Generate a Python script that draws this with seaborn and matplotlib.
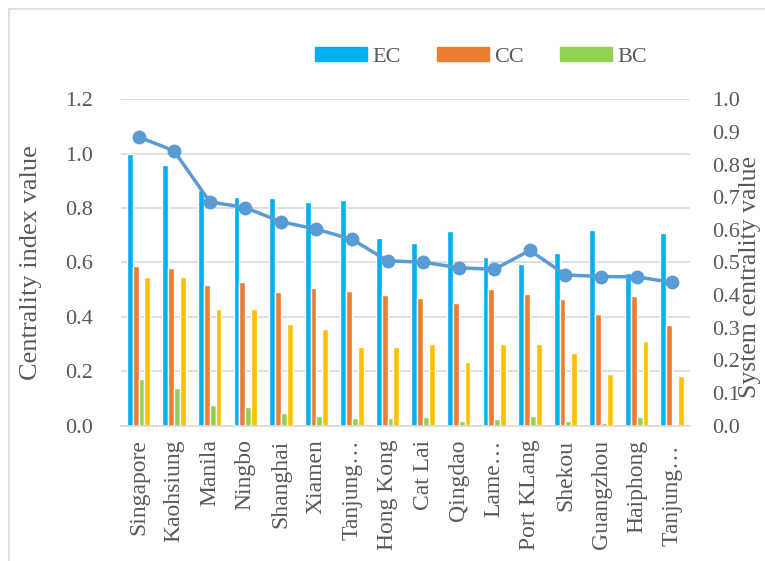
import numpy as np
import pandas as pd
import matplotlib
matplotlib.use("Agg")
import matplotlib.pyplot as plt
import seaborn as sns
from matplotlib.patches import Patch
from matplotlib.lines import Line2D

# values
ports = ["Singapore", "Kaohsiung", "Manila", "Ningbo", "Shanghai", "Xiamen",
         "Tanjung…", "Hong Kong", "Cat Lai", "Qingdao", "Lame…", "Port KLang",
         "Shekou", "Guangzhou", "Haiphong", "Tanjung… "]
ec = [1.00, 0.96, 0.866, 0.840, 0.836, 0.821, 0.830, 0.689, 0.670, 0.716,
      0.619, 0.596, 0.634, 0.720, 0.560, 0.707]
cc = [0.587, 0.579, 0.517, 0.528, 0.491, 0.506, 0.495, 0.480, 0.469, 0.452,
      0.503, 0.485, 0.467, 0.410, 0.477, 0.370]
bc = [0.171, 0.140, 0.075, 0.069, 0.048, 0.036, 0.029, 0.027, 0.032, 0.017,
      0.026, 0.037, 0.016, 0.010, 0.033, 0.003]
other = [0.548, 0.548, 0.429, 0.429, 0.375, 0.354, 0.289, 0.289, 0.299, 0.235,
         0.299, 0.299, 0.267, 0.191, 0.311, 0.182]
system = [0.885, 0.842, 0.686, 0.668, 0.625, 0.602, 0.571, 0.505, 0.501, 0.484,
          0.479, 0.537, 0.462, 0.457, 0.456, 0.439]

metrics = ["EC", "CC", "BC", "other"]
colors = ["#00B0F0", "#ED7D31", "#92D050", "#FFC000"]
n = len(ports)

df = pd.DataFrame({
    "port": ports * 4,
    "metric": sum([[m] * n for m in metrics], []),
    "value": ec + cc + bc + other,
})

sns.set_theme(style="white")
plt.rcParams["font.family"] = ["Liberation Serif", "DejaVu Serif"]
txt = "#595959"
grid_c = "#D9D9D9"

fig = plt.figure(figsize=(7.65, 5.61), dpi=100)
ax = fig.add_axes([0.1578, 0.2412, 0.7442, 0.5818])

sns.barplot(data=df, x="port", y="value", hue="metric", palette=colors,
            width=0.66, saturation=1, legend=False, ax=ax)

ax.set_ylim(0, 1.2)
ax.set_yticks(np.arange(0, 1.21, 0.2))
ax.set_yticklabels([f"{v:.1f}" for v in np.arange(0, 1.21, 0.2)])
ax.grid(axis="y", color=grid_c, lw=1.2)
ax.set_axisbelow(True)
for s in ["left", "right", "top"]:
    ax.spines[s].set_visible(False)
ax.spines["bottom"].set_color(grid_c)
ax.spines["bottom"].set_linewidth(1.2)
ax.tick_params(axis="y", length=0, pad=20, labelsize=16, labelcolor=txt)
ax.tick_params(axis="x", length=0, pad=10, labelsize=17, labelcolor=txt,
               rotation=90)
ax.set_xlabel("")
ax.set_ylabel("Centrality index value", fontsize=19, color=txt)
ax.yaxis.set_label_coords(-0.138, 0.5)

ax2 = ax.twinx()
sns.lineplot(x=np.arange(n), y=system, ax=ax2, color="#5B9BD5", lw=2.5,
             marker="o", markersize=10, markeredgewidth=0)
ax2.set_ylim(0, 1.0)
ax2.set_yticks(np.arange(0, 1.01, 0.1))
ax2.set_yticklabels([f"{v:.1f}" for v in np.arange(0, 1.01, 0.1)])
for s in ax2.spines.values():
    s.set_visible(False)
ax2.grid(False)
ax2.tick_params(axis="y", length=0, pad=16, labelsize=16, labelcolor=txt)
ax2.set_ylabel("System centrality value", fontsize=18.5, color=txt)
ax2.yaxis.set_label_coords(1.086, 0.457)
ax.set_xlim(-0.5, n - 0.5)

handles = [Patch(color=c) for c in colors[:3]]
fig.legend(handles, ["EC", "CC", "BC"], loc="center",
           bbox_to_anchor=(0.629, 0.898), ncol=3, frameon=False,
           fontsize=16, labelcolor=txt, handlelength=2.34, handleheight=0.58,
           handletextpad=0.25, columnspacing=1.6)

# chart frame (left and top edges visible)
fig.add_artist(Line2D([9 / 765, 9 / 765], [0, 1 - 9 / 561],
                      transform=fig.transFigure, color=grid_c, lw=1.2))
fig.add_artist(Line2D([9 / 765, 1], [1 - 9 / 561, 1 - 9 / 561],
                      transform=fig.transFigure, color=grid_c, lw=1.2))

fig.savefig("out.png", dpi=100)
